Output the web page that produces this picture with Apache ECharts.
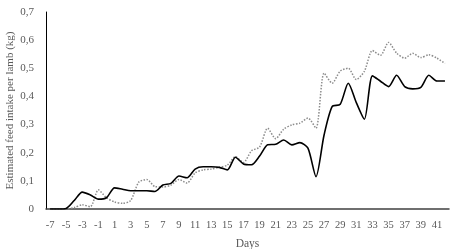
<!DOCTYPE html>
<html><head><meta charset="utf-8">
<script src="https://cdn.jsdelivr.net/npm/echarts@6/dist/echarts.min.js"></script>
<style>html,body{margin:0;padding:0;background:#fff}#c{width:461px;height:249px}</style>
</head><body><div id="c"></div>
<script>
const days = [];
for (let d = -7; d <= 42; d++) days.push(String(d));
const solidSeries = [0,0,0.002,0.03,0.06,0.05,0.035,0.04,0.075,0.07,0.065,0.065,0.065,0.062,0.085,0.091,0.117,0.111,0.142,0.15,0.15,0.148,0.139,0.184,0.16,0.157,0.188,0.228,0.23,0.245,0.228,0.236,0.216,0.115,0.263,0.364,0.372,0.447,0.378,0.319,0.473,0.454,0.435,0.475,0.435,0.427,0.432,0.475,0.455,0.455];
const dottedSeries = [0,0,0,0.005,0.015,0.008,0.068,0.04,0.025,0.02,0.03,0.095,0.105,0.08,0.078,0.085,0.105,0.092,0.128,0.139,0.142,0.148,0.156,0.186,0.165,0.207,0.22,0.287,0.25,0.284,0.299,0.305,0.323,0.287,0.483,0.447,0.49,0.5,0.46,0.489,0.563,0.546,0.592,0.554,0.536,0.553,0.538,0.548,0.536,0.517];
const yMin = 0, yMax = 0.7, yStep = 0.1;

const font = '"Liberation Serif", "DejaVu Serif", serif';
const txt = '#595959';
const chart = echarts.init(document.getElementById('c'), null, {renderer: 'canvas'});
chart.setOption({
  animation: false,
  grid: {left: 46, right: 12, top: 12, bottom: 40, containLabel: false, outerBoundsMode: 'none'},
  xAxis: {
    type: 'category', data: days, boundaryGap: true,
    name: 'Days', nameLocation: 'middle', nameGap: 29, nameMoveOverlap: false,
    nameTextStyle: {fontFamily: font, fontSize: 11.5, color: txt},
    axisLine: {lineStyle: {color: '#404040', width: 1.5}},
    axisTick: {show: false},
    axisLabel: {interval: 1, fontFamily: font, fontSize: 10.5, color: txt, margin: 11}
  },
  yAxis: {
    type: 'value', min: yMin, max: yMax, interval: yStep,
    name: 'Estimated feed intake per lamb (kg)', nameLocation: 'middle', nameGap: 30, nameMoveOverlap: false,
    nameTextStyle: {fontFamily: font, fontSize: 11, color: txt},
    axisLine: {show: true, lineStyle: {color: '#000', width: 1}},
    axisTick: {show: false},
    splitLine: {show: false},
    axisLabel: {fontFamily: font, fontSize: 11, color: txt, margin: 12,
      formatter: v => (Math.round(v * 10) / 10).toString().replace('.', ',')}
  },
  series: [
    {type: 'line', data: dottedSeries, symbol: 'none', smooth: 0.25,
     lineStyle: {color: '#8c8c8c', width: 1.5, type: 'dotted'}},
    {type: 'line', data: solidSeries, symbol: 'none', smooth: 0.25,
     lineStyle: {color: '#000', width: 1.6}}
  ]
});
</script></body></html>
